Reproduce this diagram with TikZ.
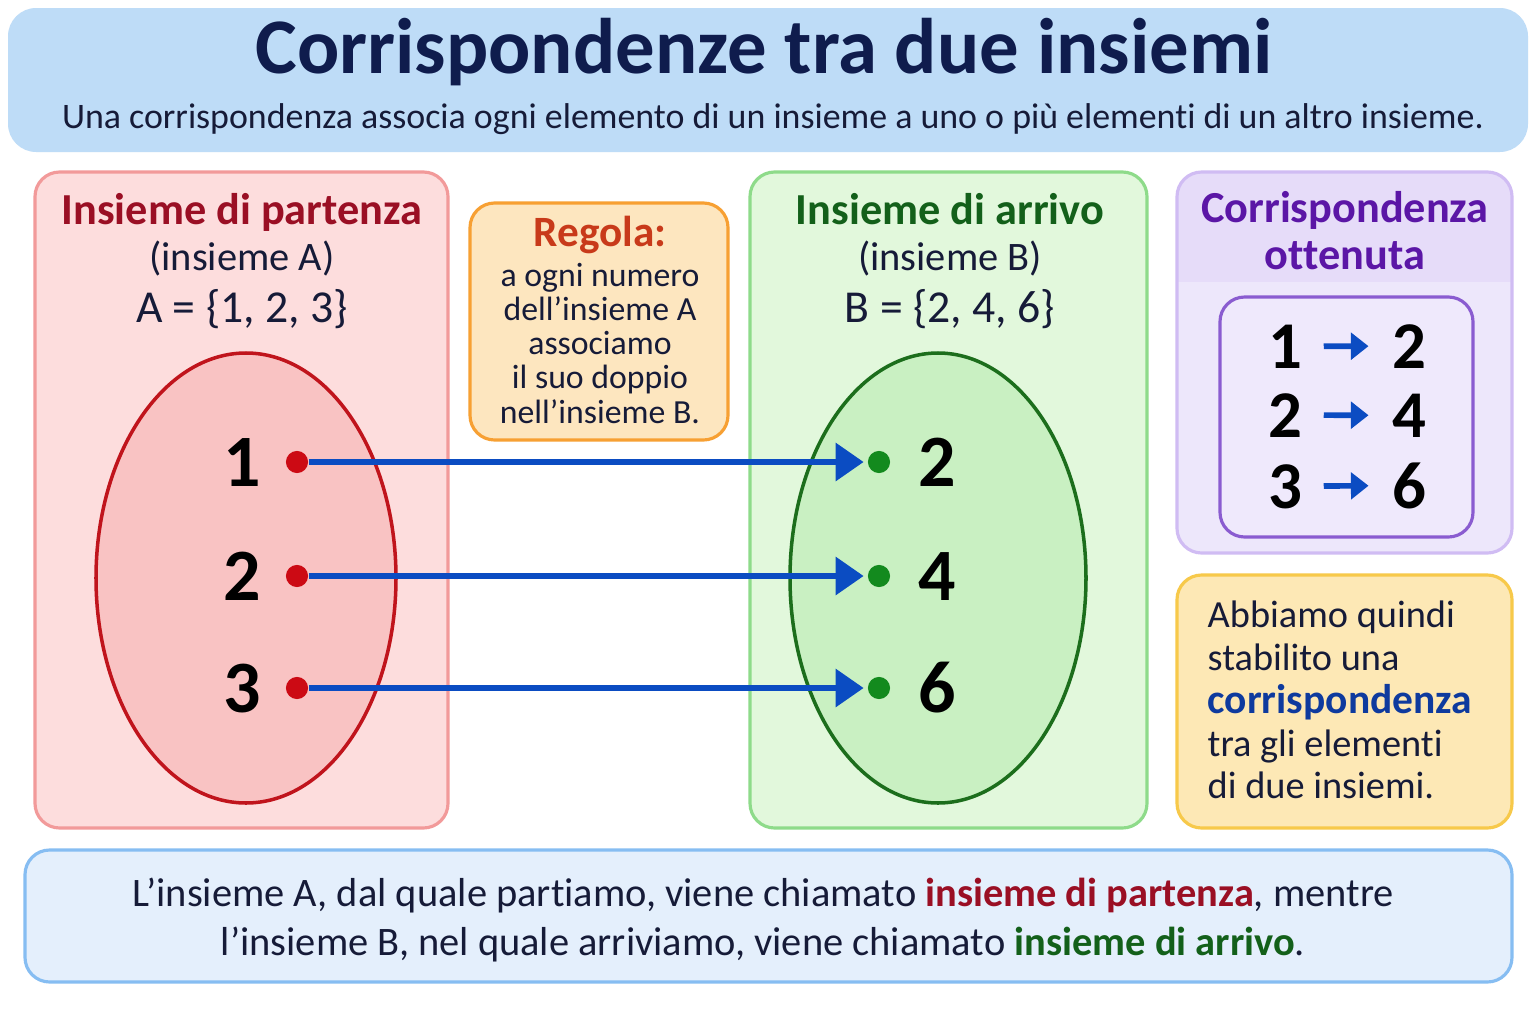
\documentclass[tikz,border=0pt]{standalone}
\usepackage{fontspec}
\setmainfont{Carlito}[Ligatures=NoCommon]
\usetikzlibrary{arrows.meta,positioning}

\definecolor{navy}{HTML}{0F1C4D}
\definecolor{ink}{HTML}{161B38}
\definecolor{headbg}{HTML}{BEDCF7}
\definecolor{redbg}{HTML}{FDDDDD}
\definecolor{redline}{HTML}{F29A9A}
\definecolor{redset}{HTML}{F9C3C3}
\definecolor{rededge}{HTML}{C0141C}
\definecolor{redtext}{HTML}{9A0F24}
\definecolor{reddot}{HTML}{CC0A14}
\definecolor{orangebg}{HTML}{FDE6BF}
\definecolor{orangeline}{HTML}{F7A033}
\definecolor{orangetext}{HTML}{C83A1A}
\definecolor{greenbg}{HTML}{E2F8DC}
\definecolor{greenline}{HTML}{8EDB8A}
\definecolor{greenset}{HTML}{C9F0C2}
\definecolor{greenedge}{HTML}{1C6E1C}
\definecolor{greentext}{HTML}{13601A}
\definecolor{greendot}{HTML}{138A1E}
\definecolor{arrowblue}{HTML}{0B4CC2}
\definecolor{purplebg}{HTML}{EDE7FB}
\definecolor{purplehead}{HTML}{E6DCF9}
\definecolor{purpleline}{HTML}{D0BCF3}
\definecolor{purpletext}{HTML}{5B16A6}
\definecolor{purpleedge}{HTML}{8A5CD0}
\definecolor{purpleinner}{HTML}{EFE9FC}
\definecolor{yellowbg}{HTML}{FDE8B5}
\definecolor{yellowline}{HTML}{F7C94A}
\definecolor{termblue}{HTML}{0E3A9E}
\definecolor{notebg}{HTML}{E4EFFC}
\definecolor{noteline}{HTML}{86BDF2}

\begin{document}
\begin{tikzpicture}[x=0.01cm, y=-0.01cm,
    box/.style={line width=0.9pt, rounded corners=7pt},
    head/.style={anchor=base, font=\fontsize{12.6}{14}\selectfont\bfseries},
    sub/.style={anchor=base, text=ink, font=\fontsize{11.5}{13}\selectfont},
    bignum/.style={anchor=base, text=black, font=\fontsize{21}{24}\selectfont\bfseries},
    dot/.style={circle, inner sep=0pt, minimum size=6.3pt},
    link/.style={draw=arrowblue, line width=1.9pt, -{Triangle[length=8pt,width=10.5pt]}, shorten >=1pt},
    pnum/.style={anchor=base, text=black, font=\fontsize{19}{21}\selectfont\bfseries, inner sep=1pt},
    parr/.style={draw=arrowblue, line width=1.6pt, -{Triangle[length=5pt,width=7.5pt]}, shorten <=5pt, shorten >=5.5pt}]

  \fill[white] (0,0) rectangle (1536,1024);

  % header
  \fill[headbg, rounded corners=8pt] (8,8) rectangle (1528,152);
  \node[anchor=base, text=navy, font=\fontsize{22.4}{25}\selectfont\bfseries] (title) at (764,73) {Corrispondenze tra due insiemi};
  \node[anchor=base, text=ink, font=\fontsize{10.2}{12}\selectfont] (subtitle) at (773,128) {Una corrispondenza associa ogni elemento di un insieme a uno o più elementi di un altro insieme.};

  % insieme di partenza
  \draw[box, draw=redline, fill=redbg] (35,172) rectangle (448,828);
  \node[head, text=redtext] (headA) at (242,224) {Insieme di partenza};
  \node[sub] (nameA) at (242,270) {(insieme A)};
  \node[sub, font=\fontsize{13}{15}\selectfont] (setA) at (242,322) {A = \{1, 2, 3\}};
  \draw[draw=rededge, fill=redset, line width=1pt] (246,578) ellipse [x radius=150, y radius=225];

  % regola
  \draw[box, draw=orangeline, fill=orangebg] (470,203) rectangle (728,440);
  \node[anchor=base, text=orangetext, font=\fontsize{12.3}{14}\selectfont\bfseries] (rule) at (600,246) {Regola:};
  \node[anchor=north, text=ink, align=center, font=\fontsize{9.6}{9.7}\selectfont] (ruletext) at (600,251)
    {a ogni numero\\dell’insieme A\\associamo\\il suo doppio\\nell’insieme B.};

  % insieme di arrivo
  \draw[box, draw=greenline, fill=greenbg] (750,172) rectangle (1147,828);
  \node[head, text=greentext] (headB) at (950,224) {Insieme di arrivo};
  \node[sub] (nameB) at (950,270) {(insieme B)};
  \node[sub, font=\fontsize{13}{15}\selectfont] (setB) at (950,322) {B = \{2, 4, 6\}};
  \draw[draw=greenedge, fill=greenset, line width=1pt] (938,578) ellipse [x radius=148, y radius=225];

  % elementi e frecce
  \foreach \a/\b/\y in {1/2/462, 2/4/576, 3/6/688} {
    \node[bignum] (numA\a) at (242,\y+24) {\a};
    \node[bignum] (numB\b) at (937,\y+24) {\b};
    \node[dot, fill=reddot] (dotA\a) at (297,\y) {};
    \node[dot, fill=greendot] (dotB\b) at (879,\y) {};
    \draw[link] (dotA\a) -- (dotB\b);
  }

  % corrispondenza ottenuta
  \fill[purplebg, rounded corners=7pt] (1177,172) rectangle (1512,553);
  \begin{scope}
    \clip[rounded corners=7pt] (1177,172) rectangle (1512,553);
    \fill[purplehead] (1177,172) rectangle (1512,282);
  \end{scope}
  \draw[box, draw=purpleline] (1177,172) rectangle (1512,553);
  \node[head, text=purpletext] (headC) at (1345,222) {Corrispondenza};
  \node[head, text=purpletext] (headC2) at (1345,269) {ottenuta};
  \draw[box, draw=purpleedge, fill=purpleinner] (1220,297) rectangle (1473,537);
  \foreach \a/\b/\y in {1/2/368, 2/4/437, 3/6/508} {
    \node[pnum] (pairL\a) at (1285,\y) {\a};
    \node[pnum] (pairR\a) at (1409,\y) {\b};
    \draw[parr] (pairL\a) -- (pairR\a);
  }

  % conclusione
  \draw[box, draw=yellowline, fill=yellowbg] (1177,575) rectangle (1512,828);
  \node[anchor=north west, text=ink, align=left, inner sep=0pt, font=\fontsize{10.9}{12.2}\selectfont] (summary) at (1207,600)
    {Abbiamo quindi\\stabilito una\\\textcolor{termblue}{\fontsize{11.8}{12.2}\selectfont\bfseries corrispondenza}\\tra gli elementi\\di due insiemi.};

  % nota
  \draw[box, draw=noteline, fill=notebg] (25,850) rectangle (1512,982);
  \node[anchor=north, text=ink, align=center, font=\fontsize{11.5}{13.7}\selectfont] (note) at (763,866)
    {L’insieme A, dal quale partiamo, viene chiamato \textcolor{redtext}{\bfseries insieme di partenza}, mentre\\
     l’insieme B, nel quale arriviamo, viene chiamato \textcolor{greentext}{\bfseries insieme di arrivo}.};
\end{tikzpicture}
\end{document}
